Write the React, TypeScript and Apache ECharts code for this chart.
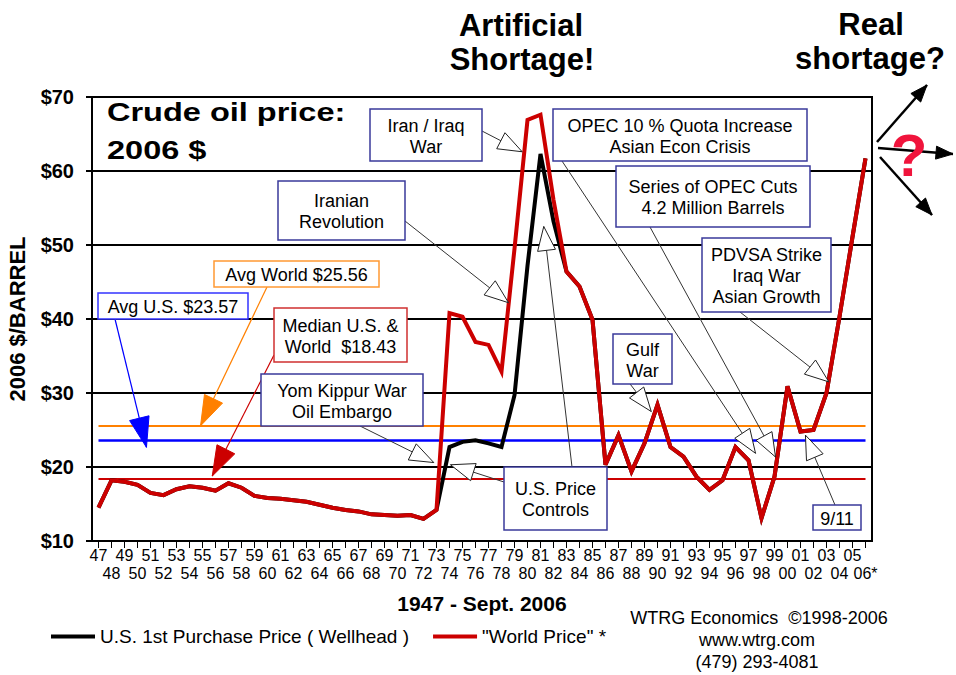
import React, { useEffect, useRef } from "react";
import * as echarts from "echarts";

const FONT = "'Liberation Sans', Arial, Helvetica, sans-serif";

const years = [
  "1947", "1948", "1949", "1950", "1951", "1952", "1953", "1954", "1955", "1956",
  "1957", "1958", "1959", "1960", "1961", "1962", "1963", "1964", "1965", "1966",
  "1967", "1968", "1969", "1970", "1971", "1972", "1973", "1974", "1975", "1976",
  "1977", "1978", "1979", "1980", "1981", "1982", "1983", "1984", "1985", "1986",
  "1987", "1988", "1989", "1990", "1991", "1992", "1993", "1994", "1995", "1996",
  "1997", "1998", "1999", "2000", "2001", "2002", "2003", "2004", "2005", "2006",
];

// "World Price" in 2006 $/barrel
const worldPrice = [
  14.5, 18.2, 18.0, 17.6, 16.5, 16.2, 17.0, 17.4, 17.2, 16.8,
  17.8, 17.2, 16.1, 15.8, 15.7, 15.5, 15.3, 14.9, 14.5, 14.2,
  14.0, 13.6, 13.5, 13.4, 13.5, 13.0, 14.2, 40.8, 40.3, 36.9,
  36.5, 32.9, 49.5, 66.9, 67.6, 56.1, 46.4, 44.4, 39.9, 20.3,
  24.3, 19.4, 23.2, 28.4, 22.7, 21.4, 18.7, 16.9, 18.2, 22.7,
  20.9, 13.1, 18.7, 30.9, 24.8, 25.0, 30.0, 40.3, 51.1, 61.7,
];

// U.S. 1st Purchase Price (Wellhead) in 2006 $/barrel
const usPrice = [
  14.5, 18.2, 18.0, 17.6, 16.5, 16.2, 17.0, 17.4, 17.2, 16.8,
  17.8, 17.2, 16.1, 15.8, 15.7, 15.5, 15.3, 14.9, 14.5, 14.2,
  14.0, 13.6, 13.5, 13.4, 13.5, 13.0, 14.2, 22.7, 23.4, 23.6,
  23.2, 22.7, 29.7, 47.2, 62.3, 53.2, 46.4, 44.4, 39.9, 20.3,
  24.3, 19.4, 23.2, 28.4, 22.7, 21.4, 18.7, 16.9, 18.2, 22.7,
  20.9, 13.1, 18.7, 30.9, 24.8, 25.0, 30.0, 40.3, 51.1, 61.7,
];

const avgWorld = 25.56;
const avgUS = 23.57;
const medianBoth = 18.43;

const yTicks = [10, 20, 30, 40, 50, 60, 70];

const US_NAME = "U.S. 1st Purchase Price ( Wellhead )";
const WORLD_NAME = '"World Price" *';

type Arrow = { from: number[]; tip: number[] };
type Note = {
  lines: string[];
  box: number[];
  border: string;
  arrows: Arrow[];
  filled?: string;
};

const NAVY = "#3A3A9A";

const notes: Note[] = [
  { lines: ["Iran / Iraq", "War"], box: [370, 109, 112, 52], border: NAVY, arrows: [{ from: [482, 131], tip: [1979.59, 62.6] }] },
  { lines: ["Iranian", "Revolution"], box: [278, 181, 127, 59], border: NAVY, arrows: [{ from: [405, 221], tip: [1978.54, 42.2] }] },
  { lines: ["OPEC 10 % Quota Increase", "Asian Econ Crisis"], box: [553, 109, 254, 52], border: NAVY, arrows: [{ from: [562, 161], tip: [1997.54, 21.85] }] },
  { lines: ["Series of OPEC Cuts", "4.2 Million Barrels"], box: [616, 166, 194, 61], border: NAVY, arrows: [{ from: [650, 227], tip: [1999.08, 21.35] }] },
  { lines: ["PDVSA Strike", "Iraq War", "Asian Growth"], box: [702, 238, 129, 74], border: NAVY, arrows: [{ from: [740, 312], tip: [2003.18, 31.5] }] },
  { lines: ["Gulf", "War"], box: [613, 334, 59, 50], border: NAVY, arrows: [{ from: [627, 380], tip: [1989.52, 27.5] }] },
  { lines: ["9/11"], box: [813, 505, 48, 25], border: NAVY, arrows: [{ from: [835, 505], tip: [2001.38, 24.3] }] },
  {
    lines: ["U.S. Price", "Controls"], box: [504, 467, 103, 63], border: NAVY,
    arrows: [{ from: [572, 467], tip: [1981.25, 52.5] }, { from: [504, 482], tip: [1974.08, 20.3] }],
  },
  { lines: ["Yom Kippur War", "Oil Embargo"], box: [261, 374, 162, 52], border: NAVY, arrows: [{ from: [360, 426], tip: [1972.79, 20.6] }] },
  { lines: ["Avg World $25.56"], box: [214, 261, 165, 26], border: "#FF9933", arrows: [{ from: [267, 287], tip: [1954.85, avgWorld] }], filled: "#FF8000" },
  { lines: ["Avg U.S. $23.57"], box: [98, 293, 150, 26], border: "#3333FF", arrows: [{ from: [115, 319], tip: [1950.69, 22.66] }], filled: "#0000FF" },
  { lines: ["Median U.S. &", "World  $18.43"], box: [274, 308, 133, 54], border: "#D03030", arrows: [{ from: [274, 355], tip: [1955.75, 18.78] }], filled: "#CC0000" },
];

function headPoints(tip: number[], from: number[], len: number, w: number) {
  const dx = tip[0] - from[0];
  const dy = tip[1] - from[1];
  const L = Math.hypot(dx, dy) || 1;
  const ux = dx / L;
  const uy = dy / L;
  const bx = tip[0] - ux * len;
  const by = tip[1] - uy * len;
  return [
    [tip[0], tip[1]],
    [bx - (uy * w) / 2, by + (ux * w) / 2],
    [bx + (uy * w) / 2, by - (ux * w) / 2],
  ];
}

function txt(x: number, y: number, text: string, size: number, opts: any = {}) {
  const align = opts.align || "center";
  return {
    type: "text",
    x,
    y,
    z: 110,
    scaleX: opts.scaleX || 1,
    silent: true,
    style: {
      text,
      fill: opts.fill || "#000",
      fontSize: size,
      fontWeight: opts.bold ? "bold" : "normal",
      fontFamily: FONT,
      align,
      textAlign: align,
      verticalAlign: "middle",
      textVerticalAlign: "middle",
      lineHeight: opts.lineHeight || Math.round(size * 1.18),
    },
  };
}

export default function App() {
  const ref = useRef<HTMLDivElement>(null);

  useEffect(() => {
    document.body.style.margin = "0";
    const chart = echarts.init(ref.current!, null, { renderer: "svg" });
    chart.setOption({
      animation: false,
      backgroundColor: "#ffffff",
      textStyle: { fontFamily: FONT },
      grid: {
        left: 92,
        right: 84,
        top: 97,
        bottom: 134,
        show: true,
        borderColor: "#000",
        borderWidth: 2,
        backgroundColor: "transparent",
        containLabel: false,
        outerBoundsMode: "none",
      },
      legend: {
        left: 46,
        top: 622,
        orient: "horizontal",
        icon: "rect",
        itemWidth: 44,
        itemHeight: 4,
        itemGap: 24,
        selectedMode: false,
        data: [US_NAME, WORLD_NAME],
        textStyle: { fontSize: 19, color: "#000", fontFamily: FONT },
      },
      xAxis: {
        type: "category",
        data: years,
        boundaryGap: true,
        name: "1947 - Sept. 2006",
        nameLocation: "middle",
        nameGap: 52,
        nameTextStyle: { fontSize: 21, fontWeight: "bold", color: "#000", fontFamily: FONT },
        axisLine: { show: true, lineStyle: { color: "#000", width: 2 } },
        axisTick: { show: true, alignWithLabel: true, interval: 0, length: 7, lineStyle: { color: "#000", width: 1 } },
        axisLabel: {
          show: true,
          interval: 0,
          margin: 5,
          color: "#000",
          fontSize: 16,
          lineHeight: 18,
          fontFamily: FONT,
          hideOverlap: false,
          formatter: (v: string, i: number) => {
            const s = v.slice(2) + (v === "2006" ? "*" : "");
            return i % 2 === 0 ? s : "\n" + s;
          },
        },
        splitLine: { show: false },
      },
      yAxis: {
        type: "value",
        min: yTicks[0],
        max: yTicks[yTicks.length - 1],
        interval: 10,
        name: "2006 $/BARREL",
        nameLocation: "middle",
        nameRotate: 90,
        nameGap: 64,
        nameTextStyle: { fontSize: 22, fontWeight: "bold", color: "#000", fontFamily: FONT },
        axisLine: { show: true, lineStyle: { color: "#000", width: 2 } },
        axisTick: { show: true, inside: false, length: 6, lineStyle: { color: "#000", width: 2 } },
        axisLabel: {
          show: true,
          margin: 18,
          color: "#000",
          fontSize: 20,
          fontWeight: "bold",
          fontFamily: FONT,
          formatter: (v: number) => "$" + v,
        },
        splitLine: { show: true, lineStyle: { color: "#000", width: 2 } },
      },
      series: [
        {
          name: US_NAME,
          type: "line",
          data: usPrice,
          symbol: "none",
          z: 3,
          lineStyle: { color: "#000", width: 4, join: "miter" },
          itemStyle: { color: "#000" },
          markLine: {
            z: 2,
            silent: true,
            symbol: ["none", "none"],
            label: { show: false },
            data: [
              [
                { coord: [years[0], avgWorld], lineStyle: { color: "#FF8000", width: 2, type: "solid" } },
                { coord: [years[years.length - 1], avgWorld] },
              ],
              [
                { coord: [years[0], avgUS], lineStyle: { color: "#0000FF", width: 2.5, type: "solid" } },
                { coord: [years[years.length - 1], avgUS] },
              ],
              [
                { coord: [years[0], medianBoth], lineStyle: { color: "#CC0000", width: 2, type: "solid" } },
                { coord: [years[years.length - 1], medianBoth] },
              ],
            ],
          },
        },
        {
          name: WORLD_NAME,
          type: "line",
          data: worldPrice,
          symbol: "none",
          z: 4,
          lineStyle: { color: "#CC0000", width: 4, join: "miter" },
          itemStyle: { color: "#CC0000" },
        },
      ],
    });

    const px = (yr: number, v: number): number[] => {
      const a = chart.convertToPixel({ gridIndex: 0 }, [years[0], v]) as number[];
      const b = chart.convertToPixel({ gridIndex: 0 }, [years[1], v]) as number[];
      return [a[0] + (yr - Number(years[0])) * (b[0] - a[0]), a[1]];
    };

    const els: any[] = [];

    // annotation arrows
    notes.forEach((n) => {
      n.arrows.forEach((a) => {
        const tip = px(a.tip[0], a.tip[1]);
        const color = n.filled || "#333";
        els.push({
          type: "line",
          z: 100,
          silent: true,
          shape: { x1: a.from[0], y1: a.from[1], x2: tip[0], y2: tip[1] },
          style: { stroke: color, lineWidth: n.filled ? 1.2 : 1 },
        });
        const pts = n.filled ? headPoints(tip, a.from, 30, 20) : headPoints(tip, a.from, 24, 18);
        els.push({
          type: "polygon",
          z: 101,
          silent: true,
          shape: { points: pts },
          style: n.filled
            ? { fill: n.filled, stroke: n.filled, lineWidth: 1 }
            : { fill: "#fff", stroke: "#222", lineWidth: 1 },
        });
      });
    });

    // annotation boxes
    notes.forEach((n) => {
      const [x, y, w, h] = n.box;
      els.push({
        type: "rect",
        z: 105,
        silent: true,
        shape: { x, y, width: w, height: h },
        style: { fill: "#fff", stroke: n.border, lineWidth: 1.5 },
      });
      els.push(txt(x + w / 2, y + h / 2 + 1, n.lines.join("\n"), 18, { lineHeight: 21 }));
    });

    // titles
    els.push(txt(107, 112, "Crude oil price:", 26, { bold: true, align: "left", scaleX: 1.25 }));
    els.push(txt(107, 150, "2006 $", 26, { bold: true, align: "left", scaleX: 1.25 }));
    els.push(txt(521, 25, "Artificial", 31, { bold: true }));
    els.push(txt(522, 59, "Shortage!", 31, { bold: true }));
    els.push(txt(871, 24, "Real", 31, { bold: true }));
    els.push(txt(870, 58, "shortage?", 31, { bold: true }));

    // outlook arrows
    const outlook = [
      { from: [877, 142], to: [927, 85] },
      { from: [878, 148], to: [953, 154] },
      { from: [880, 157], to: [932, 215] },
    ];
    outlook.forEach((o) => {
      els.push({
        type: "line",
        z: 100,
        silent: true,
        shape: { x1: o.from[0], y1: o.from[1], x2: o.to[0], y2: o.to[1] },
        style: { stroke: "#000", lineWidth: 2.5 },
      });
      els.push({
        type: "polygon",
        z: 101,
        silent: true,
        shape: { points: headPoints(o.to, o.from, 17, 13) },
        style: { fill: "#000", stroke: "#000", lineWidth: 1 },
      });
    });
    els.push(txt(909, 155, "?", 60, { bold: true, fill: "#F0143C" }));

    // credits
    els.push(txt(759, 618, "WTRG Economics  \u00A91998-2006", 18));
    els.push(txt(757, 640, "www.wtrg.com", 18));
    els.push(txt(757, 662, "(479) 293-4081", 18));

    chart.setOption({ graphic: els });

    return () => chart.dispose();
  }, []);

  return (
    <div
      ref={ref}
      style={{ position: "fixed", left: 0, top: 0, width: 956, height: 675, background: "#fff" }}
    />
  );
}
